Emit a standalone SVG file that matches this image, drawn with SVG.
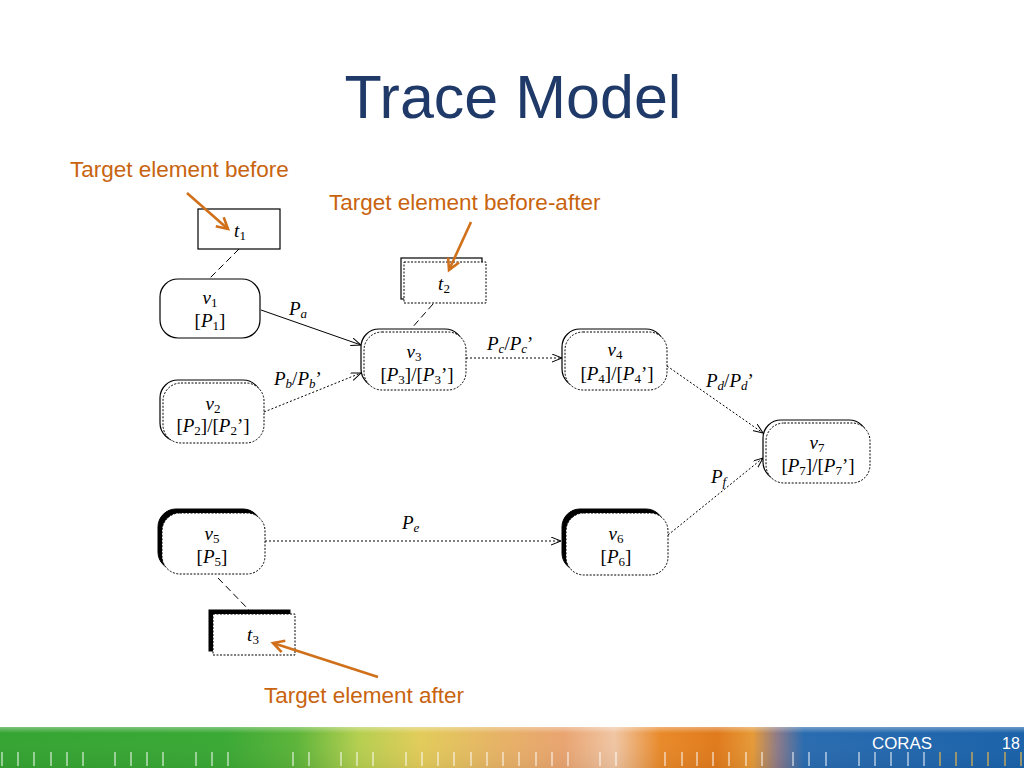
<svg xmlns="http://www.w3.org/2000/svg" width="1024" height="768" viewBox="0 0 1024 768">
<defs>
<style>
.title{font-family:"Liberation Sans",Arial,sans-serif;font-size:61px;fill:#1f3a68}
.ann{font-family:"Liberation Sans",Arial,sans-serif;font-size:22.5px;fill:#c8640f}
.lbl{font-family:"Liberation Serif","Times New Roman",serif;font-size:19px;fill:#000}
.it{font-style:italic}
.solid{fill:#fff;stroke:#000;stroke-width:1.2}
.dot{fill:#fff;stroke:#000;stroke-width:1;stroke-dasharray:2,1.5}
.shadow{fill:#000;stroke:#000;stroke-width:1}
.conn{fill:none;stroke:#000;stroke-width:1}
.dotted{stroke-dasharray:2,2}
.dashed{stroke-dasharray:7,4}
.orange{fill:none;stroke:#d0701a;stroke-width:2.6}
.foot{font-family:"Liberation Sans",Arial,sans-serif;font-size:16px;fill:#fff}
.tick{stroke:#fff;stroke-opacity:0.75;stroke-width:1.3}
.tickg{stroke:#d8b050;stroke-width:1.3}
</style>
<marker id="arr" markerWidth="12" markerHeight="10" refX="10" refY="4" orient="auto" markerUnits="userSpaceOnUse">
<path d="M0,0 L10,4 L0,8" fill="none" stroke="#000" stroke-width="1"/>
</marker>
<marker id="oarr" markerWidth="16" markerHeight="16" refX="12" refY="7" orient="auto" markerUnits="userSpaceOnUse">
<path d="M1,1 L12,7 L1,13" fill="none" stroke="#d0701a" stroke-width="2.6"/>
</marker>
<linearGradient id="fg" x1="0" y1="0" x2="1" y2="0">
<stop offset="0" stop-color="#35a432"/>
<stop offset="0.22" stop-color="#3aa935"/>
<stop offset="0.29" stop-color="#5db53a"/>
<stop offset="0.35" stop-color="#b5cf50"/>
<stop offset="0.41" stop-color="#e2cc5a"/>
<stop offset="0.49" stop-color="#e7b266"/>
<stop offset="0.55" stop-color="#e9a470"/>
<stop offset="0.60" stop-color="#f0c6a4"/>
<stop offset="0.645" stop-color="#e98a2a"/>
<stop offset="0.70" stop-color="#e07a1c"/>
<stop offset="0.735" stop-color="#e69a38"/>
<stop offset="0.76" stop-color="#8a7a8a"/>
<stop offset="0.785" stop-color="#2a6cb0"/>
<stop offset="1" stop-color="#1a62aa"/>
</linearGradient>
<linearGradient id="fv" x1="0" y1="0" x2="0" y2="1">
<stop offset="0" stop-color="#fff" stop-opacity="0.35"/>
<stop offset="0.15" stop-color="#fff" stop-opacity="0"/>
<stop offset="1" stop-color="#000" stop-opacity="0.05"/>
</linearGradient>
</defs>
<rect width="1024" height="768" fill="#fff"/>
<text class="title" x="513" y="118" text-anchor="middle">Trace Model</text>

<g id="connectors">
<line class="conn dashed" x1="239" y1="249" x2="209" y2="279"/>
<line class="conn dashed" x1="433" y1="304" x2="411" y2="329"/>
<line class="conn dashed" x1="218" y1="578" x2="249" y2="610"/>
<line class="conn" x1="261" y1="310" x2="361" y2="345" marker-end="url(#arr)"/>
<line class="conn dotted" x1="264" y1="412" x2="361" y2="373" marker-end="url(#arr)"/>
<line class="conn dotted" x1="466" y1="358" x2="562" y2="358" marker-end="url(#arr)"/>
<line class="conn dotted" x1="667" y1="366" x2="763" y2="433" marker-end="url(#arr)"/>
<line class="conn dotted" x1="668" y1="535" x2="763" y2="458" marker-end="url(#arr)"/>
<line class="conn dotted" x1="265" y1="541" x2="561" y2="541" marker-end="url(#arr)"/>
<text class="lbl" x="289" y="315"><tspan class="it">P</tspan><tspan class="it" font-size="13" dy="3">a</tspan></text>
<text class="lbl" x="274" y="385"><tspan class="it">P</tspan><tspan class="it" font-size="13" dy="3">b</tspan><tspan dy="-3">/</tspan><tspan class="it">P</tspan><tspan class="it" font-size="13" dy="3">b</tspan><tspan dy="-3">’</tspan></text>
<text class="lbl" x="487" y="350"><tspan class="it">P</tspan><tspan class="it" font-size="13" dy="3">c</tspan><tspan dy="-3">/</tspan><tspan class="it">P</tspan><tspan class="it" font-size="13" dy="3">c</tspan><tspan dy="-3">’</tspan></text>
<text class="lbl" x="706" y="387"><tspan class="it">P</tspan><tspan class="it" font-size="13" dy="3">d</tspan><tspan dy="-3">/</tspan><tspan class="it">P</tspan><tspan class="it" font-size="13" dy="3">d</tspan><tspan dy="-3">’</tspan></text>
<text class="lbl" x="711" y="483"><tspan class="it">P</tspan><tspan class="it" font-size="13" dy="3">f</tspan></text>
<text class="lbl" x="402" y="529"><tspan class="it">P</tspan><tspan class="it" font-size="13" dy="3">e</tspan></text>
</g>

<g id="t1">
<rect class="solid" x="198" y="209" width="82" height="40"/>
<text class="lbl" x="240" y="237" text-anchor="middle"><tspan class="it">t</tspan><tspan font-size="13" dy="3">1</tspan></text>
</g>
<g id="v1">
<rect class="solid" x="160" y="279" width="100" height="59" rx="18"/>
<text class="lbl" x="210" y="304" text-anchor="middle"><tspan class="it">v</tspan><tspan font-size="13" dy="3">1</tspan></text>
<text class="lbl" x="210" y="327" text-anchor="middle">[<tspan class="it">P</tspan><tspan font-size="13" dy="3">1</tspan><tspan dy="-3">]</tspan></text>
</g>
<g id="v2">
<rect class="solid" x="160" y="380" width="101" height="61" rx="18"/>
<rect class="dot" x="163" y="383" width="101" height="60" rx="18"/>
<text class="lbl" x="213" y="410" text-anchor="middle"><tspan class="it">v</tspan><tspan font-size="13" dy="3">2</tspan></text>
<text class="lbl" x="213" y="432" text-anchor="middle">[<tspan class="it">P</tspan><tspan font-size="13" dy="3">2</tspan><tspan dy="-3">]/[</tspan><tspan class="it">P</tspan><tspan font-size="13" dy="3">2</tspan><tspan dy="-3">’]</tspan></text>
</g>
<g id="t2">
<rect class="solid" x="401" y="258" width="81" height="41"/>
<rect class="dot" x="404" y="262" width="82" height="41"/>
<text class="lbl" x="444" y="290" text-anchor="middle"><tspan class="it">t</tspan><tspan font-size="13" dy="3">2</tspan></text>
</g>
<g id="v3">
<rect class="solid" x="361" y="329" width="102" height="58" rx="18"/>
<rect class="dot" x="364" y="332" width="102" height="58" rx="18"/>
<text class="lbl" x="414" y="358" text-anchor="middle"><tspan class="it">v</tspan><tspan font-size="13" dy="3">3</tspan></text>
<text class="lbl" x="417" y="381" text-anchor="middle">[<tspan class="it">P</tspan><tspan font-size="13" dy="3">3</tspan><tspan dy="-3">]/[</tspan><tspan class="it">P</tspan><tspan font-size="13" dy="3">3</tspan><tspan dy="-3">’]</tspan></text>
</g>
<g id="v4">
<rect class="solid" x="562" y="329" width="102" height="58" rx="18"/>
<rect class="dot" x="565" y="332" width="102" height="58" rx="18"/>
<text class="lbl" x="615" y="356" text-anchor="middle"><tspan class="it">v</tspan><tspan font-size="13" dy="3">4</tspan></text>
<text class="lbl" x="617" y="380" text-anchor="middle">[<tspan class="it">P</tspan><tspan font-size="13" dy="3">4</tspan><tspan dy="-3">]/[</tspan><tspan class="it">P</tspan><tspan font-size="13" dy="3">4</tspan><tspan dy="-3">’]</tspan></text>
</g>
<g id="v7">
<rect class="solid" x="763" y="420" width="104" height="60" rx="18"/>
<rect class="dot" x="766" y="423" width="104" height="60" rx="18"/>
<text class="lbl" x="817" y="449" text-anchor="middle"><tspan class="it">v</tspan><tspan font-size="13" dy="3">7</tspan></text>
<text class="lbl" x="818" y="472" text-anchor="middle">[<tspan class="it">P</tspan><tspan font-size="13" dy="3">7</tspan><tspan dy="-3">]/[</tspan><tspan class="it">P</tspan><tspan font-size="13" dy="3">7</tspan><tspan dy="-3">’]</tspan></text>
</g>
<g id="v5">
<rect class="shadow" x="158" y="509" width="103" height="61" rx="18"/>
<rect class="dot" x="162" y="513" width="103" height="61" rx="18"/>
<text class="lbl" x="212" y="540" text-anchor="middle"><tspan class="it">v</tspan><tspan font-size="13" dy="3">5</tspan></text>
<text class="lbl" x="212" y="563" text-anchor="middle">[<tspan class="it">P</tspan><tspan font-size="13" dy="3">5</tspan><tspan dy="-3">]</tspan></text>
</g>
<g id="v6">
<rect class="shadow" x="562" y="509" width="102" height="62" rx="18"/>
<rect class="dot" x="566" y="513" width="102" height="62" rx="18"/>
<text class="lbl" x="616" y="540" text-anchor="middle"><tspan class="it">v</tspan><tspan font-size="13" dy="3">6</tspan></text>
<text class="lbl" x="616" y="563" text-anchor="middle">[<tspan class="it">P</tspan><tspan font-size="13" dy="3">6</tspan><tspan dy="-3">]</tspan></text>
</g>
<g id="t3">
<rect class="shadow" x="209" y="610" width="81" height="41"/>
<rect class="dot" x="213" y="614" width="82" height="41"/>
<text class="lbl" x="253" y="641" text-anchor="middle"><tspan class="it">t</tspan><tspan font-size="13" dy="3">3</tspan></text>
</g>

<g id="annotations">
<text class="ann" x="70" y="177">Target element before</text>
<text class="ann" x="329" y="210">Target element before-after</text>
<text class="ann" x="264" y="703">Target element after</text>
<line class="orange" x1="187" y1="193" x2="228" y2="229" marker-end="url(#oarr)"/>
<line class="orange" x1="471" y1="222" x2="449" y2="270" marker-end="url(#oarr)"/>
<line class="orange" x1="378" y1="677" x2="273" y2="643" marker-end="url(#oarr)"/>
</g>

<g id="footer">
<rect x="0" y="727" width="1024" height="41" fill="url(#fg)"/>
<rect x="0" y="727" width="1024" height="41" fill="url(#fv)"/>
<g class="tick">
<path d="M2,752V766M18,752V766M34,752V766M51,752V766M67,752V766M83,752V766M115,752V766M131,752V766M147,752V766M163,752V766M196,752V766M212,752V766M228,752V766M293,752V766M309,752V766M341,752V766M357,752V766M373,752V766M406,752V766M422,752V766M438,752V766M454,752V766M471,752V766M487,752V766M503,752V766M519,752V766M536,752V766M552,752V766M568,752V766M600,752V766M616,752V766M665,752V766M682,752V766M697,752V766M713,752V766M729,752V766M746,752V766M762,752V766M793,752V766M809,752V766M826,752V766M859,752V766M875,752V766M891,752V766M908,752V766M924,752V766"/>
</g>
<path class="tickg" d="M940,752V766M956,752V766M972,752V766M988,752V766M1005,752V766M1021,752V766"/>
<text class="foot" x="872" y="749" textLength="60" lengthAdjust="spacingAndGlyphs">CORAS</text>
<text class="foot" x="1002" y="749">18</text>
</g>
</svg>
